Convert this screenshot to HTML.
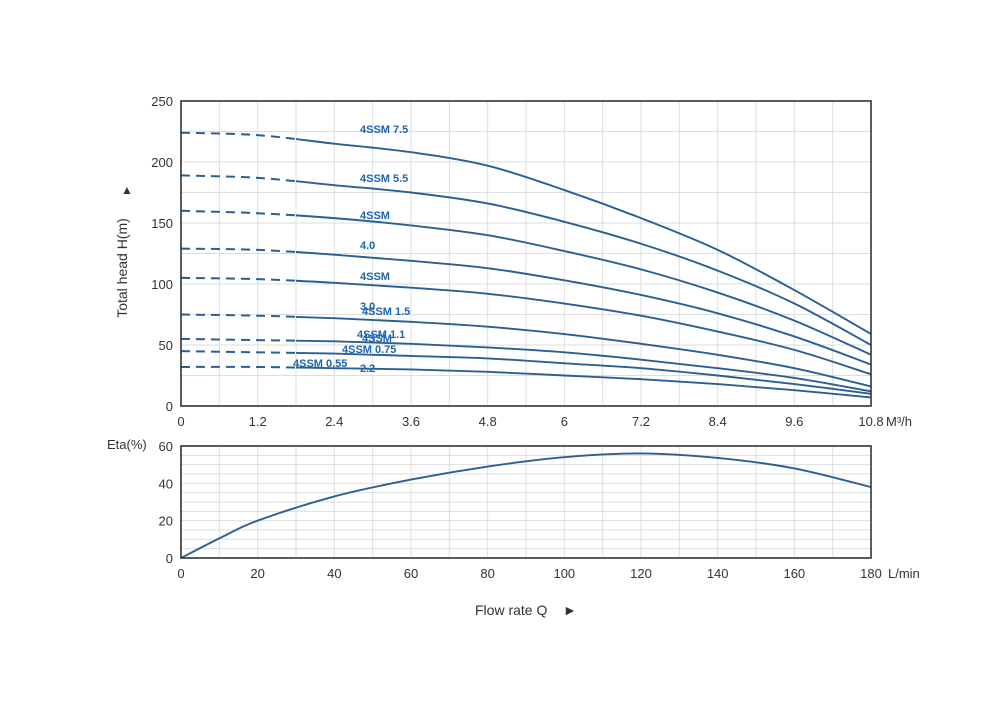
<!DOCTYPE html>
<html><head><meta charset="utf-8"><style>
body{margin:0;background:#fff;}
svg{display:block;font-family:"Liberation Sans",sans-serif;}
</style></head><body>
<svg id="c" width="1000" height="712" viewBox="0 0 1000 712"></svg>
<script>
const qTicks=[0,1.2,2.4,3.6,4.8,6,7.2,8.4,9.6,10.8];
const hTicks=[0,50,100,150,200,250];
const qPts=[0,1.2,2.4,3.6,4.8,6,7.2,8.4,9.6,10.8];
const h75=[224,222,215,208,197,177,154,128,95,59];
const h55=[189,187,181,175,166,151,133,111,84,50];
const h40=[160,158,154,148,140,127,112,93,70,42];
const h30=[129,128,124,119,113,103,91,76,57,34];
const h22=[105,104,101,97,92,84,74,61,46,26];
const h15=[75,74,72,69,65,59,51,42,31,16];
const h11=[55,54,53,51,48,44,38,31,23,12];
const h075=[45,44,43,41,39,35,31,25,18,10];
const h055=[32,32,31,30,28,25,22,18,13,7];
const lTicks=[0,20,40,60,80,100,120,140,160,180];
const etaTicks=[0,20,40,60];
const lPts=[0,10,20,40,60,80,100,120,140,160,180];
const eta=[0,10.5,20,33,42,49,54,56,53.6,48,38];

const NS="http://www.w3.org/2000/svg";
const svg=document.getElementById('c');
function el(t,a,p){const e=document.createElementNS(NS,t);for(const k in a)e.setAttribute(k,a[k]);(p||svg).appendChild(e);return e;}
const X0=181,X1=871,TY0=406,TY1=101,BY0=558,BY1=446;
const xq=q=>X0+q/10.8*(X1-X0);
const yh=h=>TY0-h/250*(TY0-TY1);
const xl=l=>X0+l/180*(X1-X0);
const ye=e=>BY0-e/60*(BY0-BY1);
function spline(pts){let d=`M${pts[0][0]},${pts[0][1]}`;for(let i=0;i<pts.length-1;i++){const p0=pts[i-1]||pts[i],p1=pts[i],p2=pts[i+1],p3=pts[i+2]||p2;const c1=[p1[0]+(p2[0]-p0[0])/6,p1[1]+(p2[1]-p0[1])/6],c2=[p2[0]-(p3[0]-p1[0])/6,p2[1]-(p3[1]-p1[1])/6];d+=`C${c1[0]},${c1[1]} ${c2[0]},${c2[1]} ${p2[0]},${p2[1]}`;}return d;}

// top grid
for(let i=1;i<18;i++){const g=el('line',{x1:xq(i*0.6),x2:xq(i*0.6),y1:TY1,y2:TY0,stroke:'#dedede','stroke-width':1});
}
for(let i=1;i<10;i++){const g=el('line',{x1:X0,x2:X1,y1:yh(i*25),y2:yh(i*25),stroke:'#dedede','stroke-width':1});
}
// bottom grid
for(let i=1;i<18;i++){const g=el('line',{x1:xl(i*10),x2:xl(i*10),y1:BY1,y2:BY0,stroke:'#dedede','stroke-width':1});
}
for(let i=1;i<12;i++){const g=el('line',{x1:X0,x2:X1,y1:ye(i*5),y2:ye(i*5),stroke:'#dedede','stroke-width':1});
}

const series=[h75,h55,h40,h30,h22,h15,h11,h075,h055];
const split=3; // dashed up to 1.8 (between index 1 and 2)
series.forEach((s,si)=>{
  const pts=qPts.map((q,i)=>[xq(q),yh(s[i])]);
  const g=el('g',{});
  
  const clipD=el('clipPath',{id:'cd'+si},g);el('rect',{x:0,y:0,width:xq(1.8),height:712},clipD);
  const clipS=el('clipPath',{id:'cs'+si},g);el('rect',{x:xq(1.8),y:0,width:1000,height:712},clipS);
  const d=spline(pts);
  const a=el('path',{d:d,fill:'none',stroke:'#2a5f93','stroke-width':2,'stroke-dasharray':'9,6','clip-path':`url(#cd${si})`},g);
  
  const b=el('path',{d:d,fill:'none',stroke:'#2a5f93','stroke-width':1.9,'clip-path':`url(#cs${si})`},g);
  
});
const ep=el('path',{d:spline(lPts.map((l,i)=>[xl(l),ye(eta[i])])),fill:'none',stroke:'#2a5f93','stroke-width':1.9});


// frames
const f1=el('rect',{x:X0,y:TY1,width:X1-X0,height:TY0-TY1,fill:'none',stroke:'#333','stroke-width':1.6});

const f2=el('rect',{x:X0,y:BY1,width:X1-X0,height:BY0-BY1,fill:'none',stroke:'#333','stroke-width':1.6});


function txt(x,y,s,a,name){const t=el('text',Object.assign({x:x,y:y,fill:'#333','font-size':13},a||{}));t.textContent=s;
return t;}
qTicks.forEach(q=>txt(xq(q),426,String(q),{'text-anchor':'middle'},'x-tick-label'));
hTicks.forEach(h=>txt(173,yh(h)+5,String(h),{'text-anchor':'end'},'y-tick-label'));
lTicks.forEach(l=>txt(xl(l),578,String(l),{'text-anchor':'middle'},'eta-x-tick-label'));
etaTicks.forEach(e=>txt(173,ye(e)+5,String(e),{'text-anchor':'end'},'eta-y-tick-label'));
txt(886,426,'M³/h',{},'x-unit-label');
txt(888,578,'L/min',{},'eta-x-unit-label');
txt(107,449,'Eta(%)',{},'eta-axis-title');
txt(475,615,'Flow rate Q',{'font-size':14},'x-axis-title');
txt(563,615,'►',{'font-size':14},'x-axis-arrow');
txt(127,268,'Total head H(m)',{'text-anchor':'middle','font-size':14,transform:'rotate(-90 127 268)'},'y-axis-title');
txt(127,194,'▲',{'text-anchor':'middle','font-size':12,transform:'rotate(0)'},'y-axis-arrow');

const labels=[[360,133,'4SSM 7.5'],[360,182,'4SSM 5.5'],[360,219,'4SSM'],[360,249,'4.0'],[360,280,'4SSM'],[360,310,'3.0'],[362,315,'4SSM 1.5'],[357,338,'4SSM 1.1'],[362,342,'4SSM'],[342,353,'4SSM 0.75'],[293,367,'4SSM 0.55'],[360,372,'2.2']];
labels.forEach(l=>txt(l[0],l[1],l[2],{fill:'#1c64b0','font-size':11,'font-weight':'bold'},'curve-label'));
</script>
</body></html>
